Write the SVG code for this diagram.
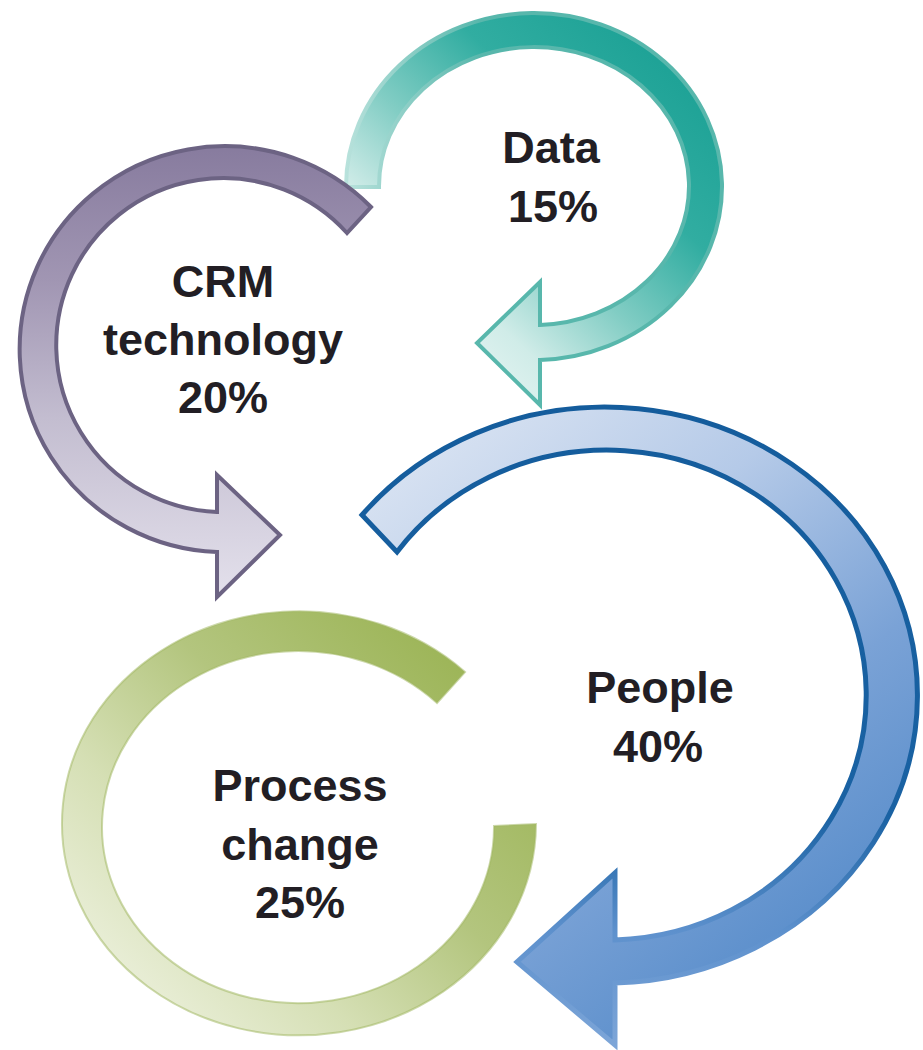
<svg xmlns="http://www.w3.org/2000/svg" width="923" height="1050" viewBox="0 0 923 1050">
  <defs>
    <style>
      .label { font-family: "Liberation Sans", Arial, "DejaVu Sans", sans-serif; font-weight: bold; font-size: 45px; fill: #221e24; text-anchor: middle; }
    </style>
    <!-- green ring: light at lower left, olive at upper right -->
    <linearGradient id="gGreen" gradientUnits="userSpaceOnUse" x1="120" y1="1010" x2="480" y2="650">
      <stop offset="0" stop-color="#edf1de"/>
      <stop offset="0.3" stop-color="#d5dfb4"/>
      <stop offset="0.6" stop-color="#b3c57e"/>
      <stop offset="1" stop-color="#9ab353"/>
    </linearGradient>
    <!-- blue arrow fill and fading outline -->
    <linearGradient id="gBlue" gradientUnits="userSpaceOnUse" x1="400" y1="450" x2="800" y2="950">
      <stop offset="0" stop-color="#d9e3f2"/>
      <stop offset="0.35" stop-color="#b5cae8"/>
      <stop offset="0.7" stop-color="#7aa2d6"/>
      <stop offset="1" stop-color="#5a8ecb"/>
    </linearGradient>
    <linearGradient id="gBlueStroke" gradientUnits="userSpaceOnUse" x1="0" y1="400" x2="0" y2="1050">
      <stop offset="0" stop-color="#145c9c"/>
      <stop offset="0.64" stop-color="#1a62a3"/>
      <stop offset="0.82" stop-color="#5e91cd"/>
      <stop offset="1" stop-color="#7ea6d8"/>
    </linearGradient>
    <!-- teal arrow -->
    <linearGradient id="gTeal" gradientUnits="userSpaceOnUse" x1="720" y1="120" x2="480" y2="380">
      <stop offset="0" stop-color="#1fa397"/>
      <stop offset="0.3" stop-color="#31ada1"/>
      <stop offset="0.6" stop-color="#82cdc4"/>
      <stop offset="0.85" stop-color="#d0ece8"/>
      <stop offset="1" stop-color="#e2f3f1"/>
    </linearGradient>
    <linearGradient id="gTealStroke" gradientUnits="userSpaceOnUse" x1="345" y1="0" x2="480" y2="0">
      <stop offset="0" stop-color="#b9e2dc"/>
      <stop offset="1" stop-color="#58b7ac"/>
    </linearGradient>
    <!-- purple arrow -->
    <linearGradient id="gPurple" gradientUnits="userSpaceOnUse" x1="0" y1="145" x2="0" y2="600">
      <stop offset="0" stop-color="#877b9e"/>
      <stop offset="0.3" stop-color="#a196b3"/>
      <stop offset="0.6" stop-color="#c3bdd0"/>
      <stop offset="1" stop-color="#e4e1ec"/>
    </linearGradient>
  </defs>

  <rect x="0" y="0" width="923" height="1050" fill="#ffffff"/>

  <!-- arrows -->
  <g id="arrows">
    <g id="process-change">
      <path d="M 536,824 A 237 212 0 1 1 465,672 L 437,703 A 196 176 0 1 0 494,826 Z"
            fill="url(#gGreen)" stroke="#a3b864" stroke-opacity="0.55" stroke-width="2"/>
    </g>
    <g id="people">
      <path d="M 362,515 A 312 288 0 1 1 615,983 L 615,1045 L 517,962 L 615,873 L 615,940 A 259 245 0 1 0 397,552 Z"
            fill="url(#gBlue)" stroke="url(#gBlueStroke)" stroke-width="5" stroke-linejoin="miter"/>
    </g>
    <g id="data">
      <path d="M 346,187 A 188 173.5 0 1 1 540,360 L 540,405 L 477,343 L 540,282 L 540,325 A 155 139 0 1 0 379,187 Z"
            fill="url(#gTeal)" stroke="url(#gTealStroke)" stroke-width="4" stroke-linejoin="miter"/>
    </g>
    <g id="crm-technology">
      <path d="M 371,207 A 205 203 0 1 0 217,552 L 217,597 L 280,535 L 217,475 L 217,512 A 167 167 0 1 1 347,233 Z"
            fill="url(#gPurple)" stroke="#6c6383" stroke-width="4" stroke-linejoin="miter"/>
    </g>
  </g>

  <!-- labels -->
  <g id="label-data">
    <text class="label" x="551" y="163">Data</text>
    <text class="label" x="553" y="222">15%</text>
  </g>
  <g id="label-crm">
    <text class="label" x="223" y="297">CRM</text>
    <text class="label" x="223" y="355">technology</text>
    <text class="label" x="223" y="413">20%</text>
  </g>
  <g id="label-people">
    <text class="label" x="660" y="703">People</text>
    <text class="label" x="658" y="762">40%</text>
  </g>
  <g id="label-process">
    <text class="label" x="300" y="801">Process</text>
    <text class="label" x="300" y="860">change</text>
    <text class="label" x="300" y="918">25%</text>
  </g>
</svg>
